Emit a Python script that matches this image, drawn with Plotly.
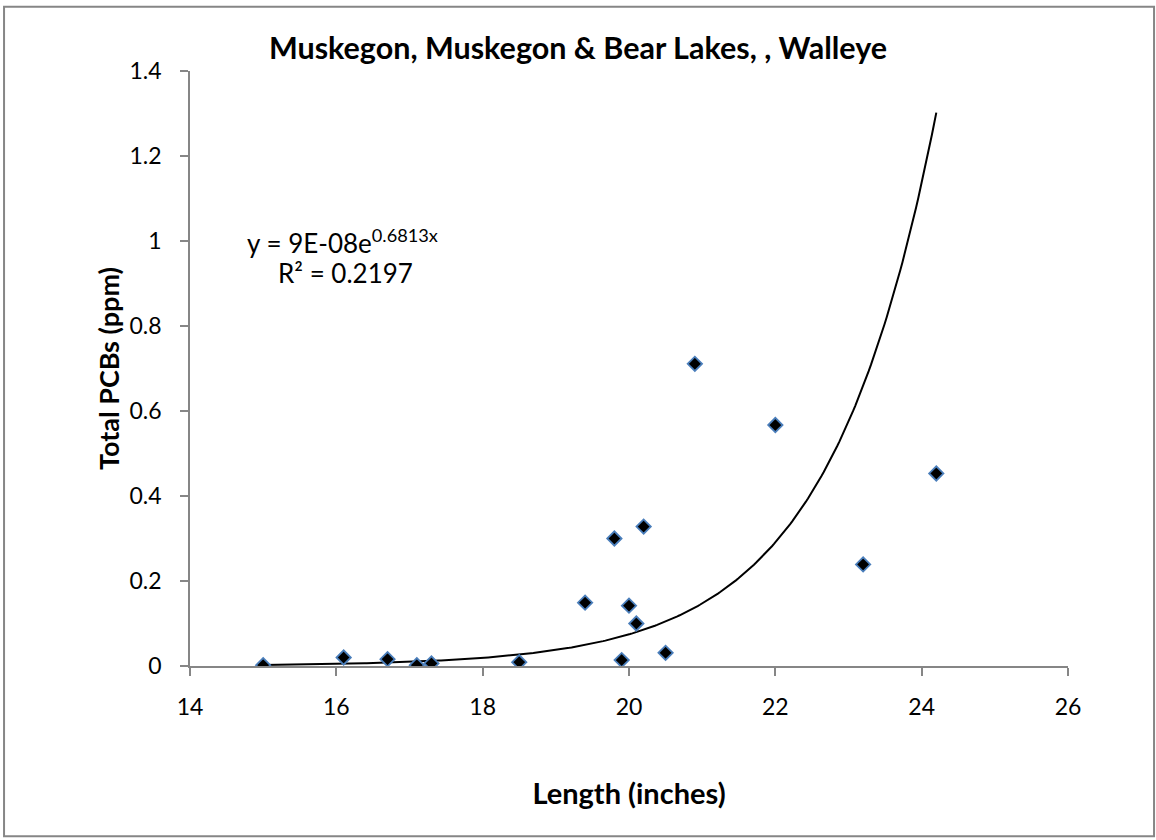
import numpy as np
import plotly.graph_objects as go

length_in = [15.0, 16.1, 16.7, 17.1, 17.3, 18.5, 19.4, 19.8, 19.9, 20.0, 20.1, 20.2, 20.5, 20.9, 22.0, 23.2, 24.2]
pcb_ppm = [0.002, 0.020, 0.016, 0.002, 0.006, 0.009, 0.149, 0.300, 0.014, 0.142, 0.100, 0.328, 0.031, 0.711, 0.567, 0.239, 0.453]

trend_a = 9e-08
trend_b = 0.6813
r_squared = 0.2197

xt = np.linspace(min(length_in), max(length_in), 300)
yt = trend_a * np.exp(trend_b * xt)

FONT = "Lato"
fig = go.Figure()
fig.add_trace(go.Scatter(x=xt, y=yt, mode="lines", line=dict(color="black", width=2),
                         showlegend=False, hoverinfo="skip"))
fig.add_trace(go.Scatter(x=length_in, y=pcb_ppm, mode="markers",
                         marker=dict(symbol="diamond", size=11, color="black",
                                     line=dict(color="#4a7ebb", width=1.8)),
                         showlegend=False))

axis_common = dict(showgrid=False, zeroline=False, showline=True, linecolor="#868686", linewidth=1.5,
                   ticks="outside", tickcolor="#868686", ticklen=8, tickwidth=1.5,
                   tickfont=dict(family=FONT, size=23, color="black"))
fig.update_xaxes(range=[14, 26], dtick=2, tick0=14, ticklabelstandoff=12,
                 title=dict(text="<b>Length (inches)</b>", font=dict(family=FONT, size=29, color="black"), standoff=64),
                 **axis_common)
fig.update_yaxes(range=[0, 1.4], dtick=0.2, tick0=0, ticklabelstandoff=14,
                 title=dict(text="<b>Total PCBs (ppm)</b>", font=dict(family=FONT, size=27, color="black"), standoff=2),
                 **axis_common)

fig.add_annotation(xref="x", yref="y", x=16.08, y=1.0, showarrow=False, xanchor="center",
                   text="y = 9E-08e<sup>0.6813x</sup>", font=dict(family=FONT, size=26, color="black"))
fig.add_annotation(xref="x", yref="y", x=16.13, y=0.925, showarrow=False, xanchor="center",
                   text="R² = 0.2197", font=dict(family=FONT, size=26, color="black"))

fig.add_shape(type="rect", xref="paper", yref="paper", x0=-0.2118, x1=1.098, y0=-0.286, y1=1.108,
              line=dict(color="#868686", width=2))

fig.update_layout(
    width=1156, height=840,
    margin=dict(l=190, r=88, t=71, b=174),
    paper_bgcolor="white", plot_bgcolor="white",
    title=dict(text="<b>Muskegon, Muskegon & Bear Lakes, , Walleye</b>", x=0.5, xanchor="center",
               y=1 - 48 / 840, yanchor="middle", font=dict(family=FONT, size=30.5, color="black")),
)
fig.write_html("out.html", config={"displayModeBar": False},
               post_script="document.body.style.margin='0px';")
